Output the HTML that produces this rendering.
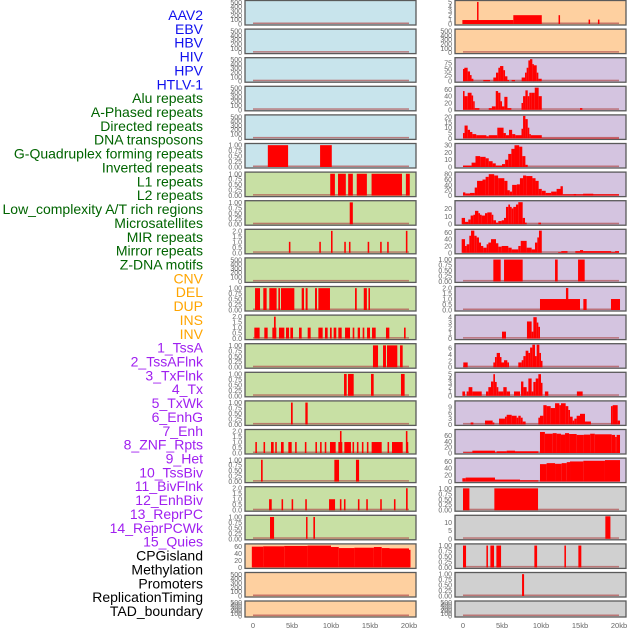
<!DOCTYPE html>
<html><head><meta charset="utf-8"><style>
html,body{margin:0;padding:0;background:#fff;width:630px;height:630px;overflow:hidden}
svg{display:block}
</style></head><body>
<svg id="chart" width="630" height="630" viewBox="0 0 630 630" xmlns="http://www.w3.org/2000/svg" font-family="Liberation Sans, sans-serif"></svg>
<script>
// ---- track labels ----
const trackLabels = ["AAV2","EBV","HBV","HIV","HPV","HTLV-1","Alu repeats","A-Phased repeats","Directed repeats","DNA transposons","G-Quadruplex forming repeats","Inverted repeats","L1 repeats","L2 repeats","Low_complexity A/T rich regions","Microsatellites","MIR repeats","Mirror repeats","Z-DNA motifs","CNV","DEL","DUP","INS","INV","1_TssA","2_TssAFlnk","3_TxFlnk","4_Tx","5_TxWk","6_EnhG","7_Enh","8_ZNF_Rpts","9_Het","10_TssBiv","11_BivFlnk","12_EnhBiv","13_ReprPC","14_ReprPCWk","15_Quies","CPGisland","Methylation","Promoters","ReplicationTiming","TAD_boundary"];
const labelGroups = [0,0,0,0,0,0,1,1,1,1,1,1,1,1,1,1,1,1,1,2,2,2,2,2,3,3,3,3,3,3,3,3,3,3,3,3,3,3,3,4,4,4,4,4];
const xTickValues = [0,5,10,15,20];
const xTickLabels = ["0","5kb","10kb","15kb","20kb"];
// ---- y tick label sets ----
const TK500 = ["0","100","200","300","400","500"];
const TK1 = ["0.00","0.25","0.50","0.75","1.00"];
const TK2 = ["0.0","0.5","1.0","1.5","2.0"];
const TK5 = ["0","1","2","3","4","5"];
const TK75 = ["0","25","50","75"];
const TK60 = ["0","20","40","60"];
const TK20 = ["0","5","10","15","20"];
const TK30 = ["0","10","20","30"];
const TK80 = ["0","20","40","60","80"];
const TK20b = ["0","10","20"];
const TK4 = ["0","1","2","3","4"];
const TK6 = ["0","2","4","6"];
const TK9 = ["0","3","6","9"];
const TK10 = ["0","5","10"];
// ---- left column series: [startKb, endKb, value] ----
const L5 = [[1.9,4.5,1],[8.6,10.1,1]];
const L6 = [[9.9,10.5,1],[10.9,11.9,1],[12.2,12.8,1],[13.3,14.6,1],[15.2,19.1,1],[19.6,20.1,1]];
const L7 = [[12.4,12.8,1]];
const L8 = [[4.6,4.8,1],[8.5,8.7,1],[10.0,10.2,2],[11.7,11.9,1],[12.3,12.5,1],[14.7,14.9,1],[16.3,16.5,1],[17.2,17.4,1],[19.6,19.8,2]];
const L10 = [[0.26,0.9,1],[1.32,1.75,1],[2.09,3.03,1],[3.25,3.46,1],[3.59,5.3,1],[6.24,6.54,1],[6.75,7.0,1],[7.95,8.2,1],[8.38,9.87,1],[13.08,13.3,1],[14.2,14.6,1],[14.8,15.0,1]];
const L11 = [[0.17,0.85,1],[1.45,1.88,1],[2.48,2.99,1],[2.69,2.91,2],[3.33,4.02,1],[4.23,4.62,1],[4.79,5.13,1],[5.9,6.24,1],[7.01,7.39,1],[8.38,8.93,1],[9.23,9.57,1],[9.87,10.09,1],[10.34,10.68,1],[10.94,11.37,1],[11.8,12.44,1],[12.78,12.99,1],[13.42,13.72,1],[14.06,14.27,1],[14.62,15.0,1],[15.26,15.73,1],[17.05,17.48,1],[19.36,19.57,1]];
const L12 = [[15.38,16.03,1],[16.67,17.05,1],[17.18,18.5,1],[18.85,19.19,1]];
const L13 = [[11.67,12.01,1],[12.18,12.91,1],[15.13,15.47,1],[18.97,19.44,1]];
const L14 = [[4.87,5.09,1],[6.71,7.01,1]];
const L15 = [[0.3,0.5,1],[1.35,1.55,1],[2.31,2.65,1],[2.85,3.05,1],[3.59,3.93,1],[4.53,4.96,1],[5.4,5.6,1],[6.65,6.85,1],[8.0,8.2,1],[8.6,8.8,1],[9.2,9.4,1],[9.87,10.6,1],[10.94,11.45,1],[11.15,11.35,2],[11.71,12.56,1],[12.76,12.96,1],[13.32,13.52,1],[13.96,14.16,1],[14.6,14.8,1],[15.21,16.5,1],[17.25,17.45,1],[17.82,19.19,1],[19.6,19.8,2],[19.7,19.9,1]];
const L16 = [[1.03,1.24,1],[10.43,11.03,1],[13.2,13.6,1]];
const L17 = [[2.06,2.4,1],[3.66,3.86,1],[4.95,5.15,1],[6.7,6.9,1],[9.75,10.52,1],[11.14,11.34,1],[11.66,11.86,1],[13.45,13.65,1],[14.52,14.72,1],[16.31,16.51,1],[18.07,18.27,1],[19.62,19.83,2]];
const L18 = [[2.18,2.7,1],[6.8,6.97,1],[7.74,7.95,1]];
const L19 = [[-0.15,1.3,59],[1.3,4,60],[4,7,61],[7,10,62],[10,11,58],[11,13,55],[13,15.5,56],[15.5,16.5,58],[16.5,17.5,55],[17.5,20,54],[20,20.1,50]];
// ---- right column series ----
const R0 = [[-0.08,6.45,0.9],[6.45,10.1,2],[1.8,1.95,5],[12.25,12.4,2],[16.1,16.25,1],[17.3,17.45,1]];
const R2 = [[0,0.17,50],[0.17,0.6,55],[0.6,0.9,40],[0.9,1.1,25],[1.1,1.33,10],[2.6,3.46,5],[3.89,4.23,15],[4.23,4.53,35],[4.53,4.75,55],[4.75,5.17,62],[5.17,5.39,45],[5.39,5.69,20],[5.69,5.9,5],[6.24,6.67,5],[7.52,7.95,15],[7.95,8.16,35],[8.16,8.38,55],[8.38,8.59,85],[8.59,8.89,90],[8.89,9.02,70],[9.02,9.45,65],[9.45,9.66,35],[9.66,10.09,10]];
const R3 = [[0,0.2,55],[0.2,0.6,40],[0.6,1.1,50],[1.1,1.3,42],[1.3,1.5,25],[1.5,2.1,5],[3.3,3.7,5],[3.7,4.2,10],[4.2,4.5,55],[4.5,4.8,50],[4.8,5.0,25],[5.0,5.3,10],[5.3,5.7,38],[5.7,6.2,5],[7.5,7.7,20],[7.7,8.0,40],[8.0,8.3,57],[8.3,8.5,40],[8.5,8.8,50],[8.8,9.2,50],[9.2,9.7,65],[9.7,10.1,40],[15.0,15.3,5]];
const R4 = [[0,0.2,5],[0.2,0.6,12],[0.6,0.9,8],[0.9,1.2,6],[1.2,1.7,4],[1.7,3.0,3],[3.0,3.3,2],[3.3,4.4,3],[4.4,5.2,10],[5.2,5.5,5],[5.5,5.9,3],[5.9,6.3,8],[6.3,6.7,4],[6.7,7.5,3],[7.5,7.7,9],[7.7,8.0,21],[8.0,8.3,18],[8.3,8.5,10],[8.5,8.7,4],[8.7,10.1,3],[10.1,20,0.5]];
const R5 = [[0,1.1,2],[1.1,1.6,6],[1.6,2.2,15],[2.2,2.9,14],[2.9,3.3,12],[3.3,3.8,8],[3.8,4.2,5],[4.2,5.0,2],[5.0,5.4,4],[5.4,5.8,10],[5.8,6.2,18],[6.2,6.6,25],[6.6,7.2,30],[7.2,7.6,28],[7.6,8.0,15],[8.0,8.3,3]];
const R6 = [[0,0.3,12],[0.3,0.9,8],[0.9,1.5,10],[1.5,1.8,30],[1.8,2.5,55],[2.5,2.9,60],[2.9,3.3,70],[3.3,4.0,80],[4.0,4.5,75],[4.5,5.3,65],[5.3,5.7,55],[5.7,6.0,20],[6.0,6.3,15],[6.3,6.9,40],[6.9,7.3,42],[7.3,7.7,65],[7.7,8.1,75],[8.1,8.9,73],[8.9,9.3,65],[9.3,9.7,55],[9.7,10.1,25],[10.1,10.6,18],[10.6,11.3,10],[11.3,12.0,15],[12.0,12.5,25],[12.5,12.8,35],[12.8,20,5],[14.2,14.5,6],[15.4,16.7,7]];
const R7 = [[-0.17,0.26,8],[0.26,0.68,3],[0.68,0.98,6],[0.98,1.33,11],[1.33,1.54,12],[1.54,1.97,17],[1.97,2.18,14],[2.18,2.39,12],[2.39,2.82,11],[2.82,3.12,14],[3.12,3.68,15],[3.68,3.89,12],[3.89,4.23,5],[4.23,4.53,2],[4.53,4.96,4],[4.96,5.26,5],[5.26,5.51,8],[5.51,5.81,22],[5.81,6.03,25],[6.03,6.24,22],[6.24,6.45,20],[6.45,6.79,22],[6.79,7.09,25],[7.09,7.65,28],[7.65,7.95,8],[7.95,8.16,2],[9.66,10.0,2]];
const R8 = [[-0.17,0.26,40],[0.26,0.47,20],[0.47,0.81,25],[0.81,1.03,50],[1.03,1.45,65],[1.45,1.75,50],[1.75,2.05,45],[2.05,2.31,30],[2.31,2.6,20],[2.6,3.03,15],[3.03,3.25,25],[3.25,3.59,30],[3.59,4.23,40],[4.23,4.53,28],[4.53,4.96,18],[4.96,5.81,20],[5.81,6.24,15],[6.24,7.09,10],[7.09,7.4,20],[7.4,8.16,35],[8.16,8.8,15],[8.8,9.23,10],[9.23,9.53,30],[9.53,9.74,45],[9.74,10.1,65],[12.2,12.6,2],[12.6,13.4,5],[14.4,15.0,5],[15.0,15.4,8],[15.4,19.0,5],[19.0,19.5,2],[19.5,20.0,5]];
const R9 = [[3.89,4.83,1],[5.26,7.65,1],[11.8,12.14,1],[14.75,15.6,1]];
const R10 = [[9.87,15.0,1],[13.2,13.5,2],[15.43,15.85,1],[18.97,20.13,1]];
const R11 = [[5.0,5.51,1.3],[8.2,8.8,3.2],[8.8,9.02,1.3],[9.02,9.45,4],[9.45,9.66,3],[9.66,9.87,2.2]];
const R12 = [[0.04,0.6,1.5],[3.89,4.1,1.5],[4.1,4.32,3.2],[4.32,4.74,4.5],[4.74,4.87,3.2],[4.87,5.26,1.5],[5.26,5.68,2.2],[5.68,5.9,1.5],[7.09,7.52,1.5],[7.52,7.74,2.2],[7.74,8.03,3.5],[8.03,8.38,5.2],[8.38,8.6,4.5],[8.6,8.89,6.2],[8.89,9.23,7.1],[9.23,9.45,3.5],[9.45,9.79,7.1],[9.79,10.0,4.5],[10.0,10.1,2]];
const R13 = [[-0.08,0.26,1],[0.47,0.72,1],[0.72,1.2,2],[1.2,2.4,1],[2.95,3.25,1],[3.25,3.59,2],[3.59,3.89,3.3],[3.89,4.1,5],[4.1,4.32,3.2],[4.32,4.53,2],[4.53,5.17,1],[5.17,5.6,2],[5.6,6.03,1],[6.54,7.31,1],[7.44,7.74,3.3],[7.74,8.16,2],[8.16,8.38,1],[8.38,8.8,4],[8.8,9.02,1],[9.02,9.32,3.2],[9.32,9.66,4],[9.66,10.0,5],[10.0,10.1,3],[10.5,10.94,1],[14.6,15.34,1]];
const R14 = [[0.98,1.33,1],[2.82,3.8,2],[3.8,4.02,1],[4.62,5.38,3],[5.38,5.6,4],[5.6,6.24,5],[6.24,6.88,4.5],[6.88,7.09,3.5],[7.09,7.4,4.5],[7.4,7.65,3.5],[7.65,8.03,1.5],[9.66,9.87,3.5],[9.87,10.3,4.5],[10.3,10.72,10],[10.72,11.24,9.5],[11.24,11.8,8.5],[11.8,12.35,11],[12.35,12.56,10],[12.56,13.16,11],[13.16,13.5,9.5],[13.5,13.72,7.5],[13.72,14.06,4],[14.06,14.27,2],[14.27,14.57,3],[14.57,15.0,4.5],[15.0,15.64,5.5],[15.64,16.4,1.5],[18.97,19.19,9.5],[19.19,19.83,10],[19.83,20.13,2]];
const R15 = [[0.04,1.2,2],[1.2,4.1,8],[4.1,4.32,2],[4.32,5.6,6],[5.6,6.67,8],[6.67,9.66,6],[9.87,10.5,72],[10.5,11.5,66],[11.5,12.0,68],[12.0,12.56,66],[12.56,13.08,63],[13.08,13.6,68],[13.6,14.57,65],[14.57,15.5,62],[15.5,16.3,63],[16.3,16.9,66],[16.9,19.06,64],[19.06,19.5,62],[19.5,19.7,55],[19.7,20.13,62]];
const R16 = [[-0.08,0.34,10],[0.34,4.1,12],[4.1,7.31,6],[7.31,9.66,4],[9.87,10.72,52],[10.72,11.8,55],[11.8,12.65,53],[12.65,13.3,55],[13.3,13.72,58],[13.72,15.43,60],[15.43,18.2,62],[18.2,20.13,64]];
const R17 = [[0,0.82,1],[4.02,9.62,1]];
const R18 = [[18.25,18.9,13.7]];
const R19 = [[0,0.39,1],[3.0,3.2,1],[3.51,3.98,1],[4.28,4.88,1],[9.15,9.5,1],[13.0,13.2,1],[14.79,15.17,1]];
const R20 = [[7.57,7.83,1]];
const E = [];

const BLUE="#c8e4ec", GREEN="#c8e0a4", PEACH="#fed0a0", LAV="#d4c4e0", GRAY="#d0d0d0";
const leftPanels = [
 [BLUE,TK500,520,E],[BLUE,TK500,520,E],[BLUE,TK500,520,E],[BLUE,TK500,520,E],[BLUE,TK500,520,E],
 [BLUE,TK1,1.03,L5],[GREEN,TK1,1.03,L6],[GREEN,TK1,1.03,L7],[GREEN,TK2,2.05,L8],[GREEN,TK500,520,E],
 [GREEN,TK1,1.03,L10],[GREEN,TK2,2.05,L11],[GREEN,TK1,1.03,L12],[GREEN,TK1,1.03,L13],[GREEN,TK1,1.03,L14],
 [GREEN,TK2,2.05,L15],[GREEN,TK1,1.03,L16],[GREEN,TK2,2.05,L17],[GREEN,TK1,1.03,L18],[PEACH,TK60,64,L19],
 [PEACH,TK500,520,E],[PEACH,TK500,520,E]];
const rightPanels = [
 [PEACH,TK5,5.1,R0],[PEACH,TK500,520,E],[LAV,TK75,92,R2],[LAV,TK60,66,R3],[LAV,TK20,21,R4],
 [LAV,TK30,31,R5],[LAV,TK80,84,R6],[LAV,TK20b,28.6,R7],[LAV,TK60,66,R8],[LAV,TK1,1.03,R9],
 [LAV,TK2,2.05,R10],[LAV,TK4,4.2,R11],[LAV,TK6,7.1,R12],[LAV,TK5,5.2,R13],[LAV,TK9,11.7,R14],
 [LAV,TK60,77,R15],[LAV,TK60,67,R16],[GRAY,TK1,1.03,R17],[GRAY,TK10,13.7,R18],[GRAY,TK1,1.03,R19],
 [GRAY,TK1,1.03,R20],[GRAY,TK500,520,E]];

const NS="http://www.w3.org/2000/svg";
const svg=document.getElementById('chart');
function mk(tag,attrs,parent){const e=document.createElementNS(NS,tag);for(const k in attrs)e.setAttribute(k,attrs[k]);(parent||svg).appendChild(e);return e;}

// labels
const groupColors=["#1010ee","#006400","#ffa500","#a020f0","#000000"];
trackLabels.forEach((t,i)=>{
  const el=mk('text',{x:203,y:15+i*13.86+5,'text-anchor':'end','font-size':14,fill:groupColors[labelGroups[i]]});
  el.textContent=t;
  
  
});

const cols=[{x0:245,x1:416,z:253,t:409,panels:leftPanels,name:'left'},{x0:455,x1:626,z:463,t:619,panels:rightPanels,name:'right'}];
cols.forEach(c=>{
  const xs=kb=>c.z+(kb/20)*(c.t-c.z);
  c.panels.forEach((p,i)=>{
    const [bg,ticks,ymax,segs]=p;
    const top=i<21?0.5+i*28.6:601;
    const h=i<21?24.5:16;
    const g=mk('g',{});
    
    
    mk('rect',{x:c.x0,y:top,width:c.x1-c.x0,height:h,fill:bg},g);
    const bot=top+h-1, ih=h-2;
    const ys=v=>bot-(v/ymax)*ih;
    mk('rect',{x:xs(0),y:bot-1.5,width:xs(20)-xs(0),height:1.5,fill:'#b05050',opacity:0.7},g);
    segs.forEach(s=>{
      const x1=xs(s[0]),x2=xs(s[1]);
      const w=Math.max(1.5,x2-x1);
      const y=ys(Math.min(s[2],ymax));
      const r=mk('rect',{x:x1,y:y,width:w,height:bot-y,fill:'#ff0000'},g);
      
      
    });
    mk('rect',{x:c.x0,y:top,width:c.x1-c.x0,height:h,fill:'none',stroke:'#5a5a5a','stroke-width':1.3},g);
    ticks.forEach(tl=>{
      const v=Number(tl);
      const t=mk('text',{x:c.x0-3,y:ys(v)+2.5,'text-anchor':'end','font-size':7,fill:'#666'},g);
      t.textContent=tl;
      
      
    });
  });
  xTickValues.forEach((v,k)=>{
    const t=mk('text',{x:xs(v),y:628,'text-anchor':'middle','font-size':7.5,fill:'#666'});
    t.textContent=xTickLabels[k];
    
    
  });
});
</script>
</body></html>
